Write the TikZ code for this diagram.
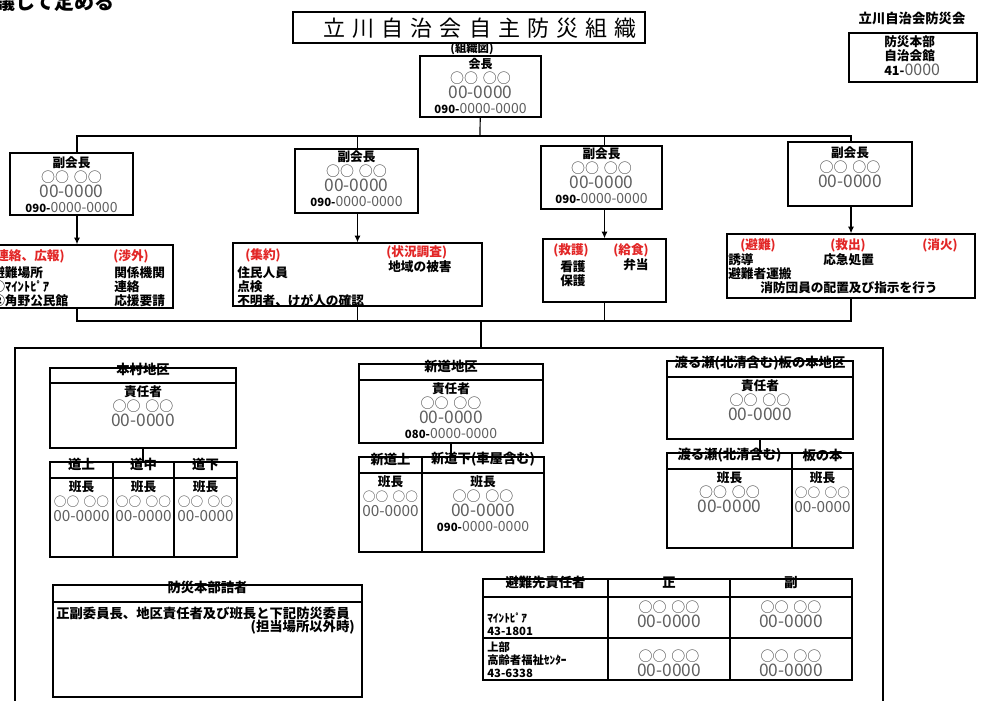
\documentclass[tikz,border=0pt]{standalone}
\usepackage{fontspec}
\setmainfont{Noto Sans CJK JP}
\usetikzlibrary{positioning,fit,arrows.meta}
\definecolor{jred}{RGB}{226,38,38}
\definecolor{numgray}{RGB}{95,95,95}
\definecolor{margray}{RGB}{60,60,60}
\newcommand{\maru}[1][10.5]{{\mdseries\color{margray}\fontsize{#1}{#1}\selectfont ○○\hspace{.35em}○○}}
\newcommand{\zz}[2][13]{{\mdseries\color{numgray}\fontsize{#1}{#1}\selectfont #2}}
\newcommand{\ban}{\zz{00-0000}}
\newcommand{\bans}{\zz[11.5]{00-0000}}
\newcommand{\keitai}[1]{{\fontsize{8.5}{8.5}\selectfont #1-}\zz[10.5]{0000-0000}}
\begin{document}
\begin{tikzpicture}[x=0.75pt,y=-0.75pt,
	box/.style={draw,line width=1pt,inner sep=0pt},
	cell/.style={box,font=\bfseries\fontsize{10}{12}\selectfont},
	txt/.style={inner sep=0pt,align=center,font=\bfseries\fontsize{9.5}{11.3}\selectfont},
	ltxt/.style={inner sep=0pt,align=left,font=\bfseries\fontsize{9.5}{10.5}\selectfont},
	rtxt/.style={ltxt,text=jred},
	link/.style={line width=0.9pt},
	arr/.style={link,-{Latex[length=5pt,width=4.5pt]}}]
\useasboundingbox (0,0) rectangle (984,700);

\node[anchor=base east,inner sep=0pt,font=\bfseries\fontsize{15}{15}\selectfont] (note) at (115,9) {協議して定める};
\node[box,line width=1.5pt,fit={(293,12) (645,43)}] (title) {};
\node[inner sep=0pt,font={\fontsize{16.5}{18}\selectfont\spaceskip=.32em\relax}] (titlet) at (480,28) {立 川 自 治 会 自 主 防 災 組 織};
\node[txt,font=\bfseries\fontsize{8.5}{9}\selectfont] (zu) at (472,49) {(組織図)};

\node[box,fit={(420,56) (541,117)}] (chair) {};
\node[txt,below=2pt of chair.north] (chairt) {{\fontsize{9}{9}\selectfont 会長}\\\maru\\\ban\\\keitai{090}};

\node[txt,font=\bfseries\fontsize{10}{12}\selectfont] (club) at (912,18) {立川自治会防災会};
\node[box,fit={(849,33) (977,82)}] (hq) {};
\node[ltxt,anchor=north west,font=\bfseries\fontsize{9.5}{11}\selectfont] (hqt) at (884,35) {防災本部\\自治会館\\41-\zz[12]{0000}};

\node[box,fit={(10,153) (133,215)}] (vp1) {};
\node[box,fit={(295,149) (418,213)}] (vp2) {};
\node[box,fit={(541,146) (662,209)}] (vp3) {};
\node[box,fit={(788,142) (912,206)}] (vp4) {};
\node[txt,below=3pt of vp1.north] (vp1t) {副会長\\\maru\\\ban\\\keitai{090}};
\node[txt,below=1.5pt of vp2.north] (vp2t) {副会長\\\maru\\\ban\\\keitai{090}};
\node[txt,below=1.5pt of vp3.north] (vp3t) {副会長\\\maru\\\ban\\\keitai{090}};
\node[txt,below=3.5pt of vp4.north] (vp4t) {副会長\\\maru\\\ban};

\node[box,fit={(-19,245) (173,308)}] (t1) {};
\node[box,fit={(233,243) (482,306)}] (t2) {};
\node[box,fit={(543,239) (666,302)}] (t3) {};
\node[box,fit={(727,234) (975,298)}] (t4) {};

\node[rtxt,anchor=west] (t1a) at (-9,256) {(連絡、広報)};
\node[ltxt,anchor=north west] (t1b) at (-8,266) {避難場所\\①ﾏｲﾝﾄﾋﾟｱ\\②角野公民館};
\node[rtxt,anchor=west] (t1c) at (113,256) {(渉外)};
\node[ltxt,anchor=north west] (t1d) at (114,266) {関係機関\\連絡\\応援要請};
\node[rtxt,anchor=west] (t2a) at (245,255) {(集約)};
\node[ltxt,anchor=north west] (t2b) at (237,266) {住民人員\\点検\\不明者、けが人の確認};
\node[rtxt,anchor=west] (t2c) at (386,252) {(状況調査)};
\node[ltxt,anchor=north west] (t2d) at (388,260) {地域の被害};
\node[rtxt,anchor=west] (t3a) at (553,250) {(救護)};
\node[ltxt,anchor=north west] (t3b) at (560,260) {看護\\保護};
\node[rtxt,anchor=west] (t3c) at (613,250) {(給食)};
\node[ltxt,anchor=north west] (t3d) at (623,258) {弁当};
\node[rtxt,anchor=west] (t4a) at (740,245) {(避難)};
\node[ltxt,anchor=north west] (t4b) at (728,253) {誘導\\避難者運搬};
\node[ltxt,anchor=west] (t4c) at (760,288) {消防団員の配置及び指示を行う};
\node[rtxt,anchor=west] (t4d) at (830,245) {(救出)};
\node[ltxt,anchor=north west] (t4e) at (823,253) {応急処置};
\node[rtxt,anchor=west] (t4f) at (922,245) {(消火)};

\coordinate (bus) at (480,136);
\coordinate (bus2) at (481,321);
\draw[link] (chair) -- (bus);
\draw[link] (vp1.north -| t1.north) -- (t1.north |- bus) -- (t4.north |- bus) -- (vp4.north -| t4.north);
\draw[link] (vp2.north -| t2.north) -- (t2.north |- bus);
\draw[link] (vp3.north -| t3.north) -- (t3.north |- bus);
\foreach \i in {1,...,4}
	\draw[arr] (vp\i.south -| t\i.north) -- (t\i.north);
\draw[link] (t1.south) -- (t1.south |- bus2) -- (t4.south |- bus2) -- (t4.south);
\draw[link] (t2.south) -- (t2.south |- bus2);
\draw[link] (t3.south) -- (t3.south |- bus2);

\node[box,fit={(15,348) (883,712)}] (area) {};
\draw[link] (bus2) -- (bus2 |- area.north);

\node[cell,fit={(50,368) (236,383)}] (d1h) {本村地区};
\node[box,fit={(50,383) (236,448)}] (d1) {};
\node[txt,below=2.5pt of d1.north] (d1t) {責任者\\\maru\\\ban};
\foreach \n/\l/\r/\s in {a/50/113/道上,b/113/174/道中,c/174/237/道下}{
	\node[cell,fit={(\l,462) (\r,478)}] (d1\n h) {\s};
	\node[box,fit={(\l,478) (\r,557)}] (d1\n) {};
	\node[txt,below=2.5pt of d1\n.north] (d1\n t) {班長\\\maru[9.5]\\\bans};
}
\draw[link] (d1.south) -- (d1.south |- d1bh.north);

\node[cell,fit={(359,364) (543,380)}] (d2h) {新道地区};
\node[box,fit={(359,380) (543,443)}] (d2) {};
\node[txt,below=2.5pt of d2.north] (d2t) {責任者\\\maru\\\ban\\\keitai{080}};
\node[cell,fit={(359,457) (422,473)}] (d2ah) {新道上};
\node[box,fit={(359,473) (422,552)}] (d2a) {};
\node[cell,fit={(422,457) (544,473)}] (d2bh) {新道下(車屋含む)};
\node[box,fit={(422,473) (544,552)}] (d2b) {};
\node[txt,below=2.5pt of d2a.north] (d2at) {班長\\\maru[9.5]\\\bans};
\node[txt,below=2.5pt of d2b.north] (d2bt) {班長\\\maru\\\ban\\\keitai{090}};
\draw[link] (d2.south) -- (d2.south |- d2ah.north);

\node[cell,fit={(667,361) (853,377)}] (d3h) {渡る瀬(北清含む)板の本地区};
\node[box,fit={(667,377) (853,439)}] (d3) {};
\node[txt,below=2pt of d3.north] (d3t) {責任者\\\maru\\\ban};
\node[cell,fit={(667,453) (792,469)}] (d3ah) {渡る瀬(北清含む)};
\node[box,fit={(667,469) (792,548)}] (d3a) {};
\node[cell,fit={(792,453) (853,469)}] (d3bh) {板の本};
\node[box,fit={(792,469) (853,548)}] (d3b) {};
\node[txt,below=2.5pt of d3a.north] (d3at) {班長\\\maru\\\ban};
\node[txt,below=2.5pt of d3b.north] (d3bt) {班長\\\maru[9.5]\\\bans};
\draw[link] (d3.south) -- (d3.south |- d3ah.north);

\node[cell,fit={(53,585) (362,602)}] (stay) {防災本部詰者};
\node[box,fit={(53,602) (362,697)}] (stayb) {};
\node[ltxt,anchor=west,font=\bfseries\fontsize{10}{12}\selectfont] (stay1) at (56,613) {正副委員長、地区責任者及び班長と下記防災委員};
\node[ltxt,anchor=east,font=\bfseries\fontsize{10}{12}\selectfont] (stay2) at (355,627) {(担当場所以外時)};

\node[cell,fit={(483,579) (608,597)}] (rfh) {避難先責任者};
\node[cell,fit={(608,579) (730,597)}] (rfha) {正};
\node[cell,fit={(730,579) (852,597)}] (rfhb) {副};
\node[box,fit={(483,597) (608,638)}] (rf1) {};
\node[box,fit={(608,597) (730,638)}] (rf1a) {};
\node[box,fit={(730,597) (852,638)}] (rf1b) {};
\node[box,fit={(483,638) (608,680)}] (rf2) {};
\node[box,fit={(608,638) (730,680)}] (rf2a) {};
\node[box,fit={(730,638) (852,680)}] (rf2b) {};
\node[ltxt,anchor=north west,font=\bfseries\fontsize{8.5}{10}\selectfont] (rf1t) at (487,612) {ﾏｲﾝﾄﾋﾟｱ\\43-1801};
\node[ltxt,anchor=north west,font=\bfseries\fontsize{8.5}{9.6}\selectfont] (rf2t) at (487,642) {上部\\高齢者福祉ｾﾝﾀｰ\\43-6338};
\foreach \c in {rf1a,rf1b}
	\node[txt,below=3.5pt of \c.north] (\c t) {\maru\\\ban};
\foreach \c in {rf2a,rf2b}
	\node[txt,below=9pt of \c.north] (\c t) {\maru\\\ban};
\end{tikzpicture}
\end{document}
